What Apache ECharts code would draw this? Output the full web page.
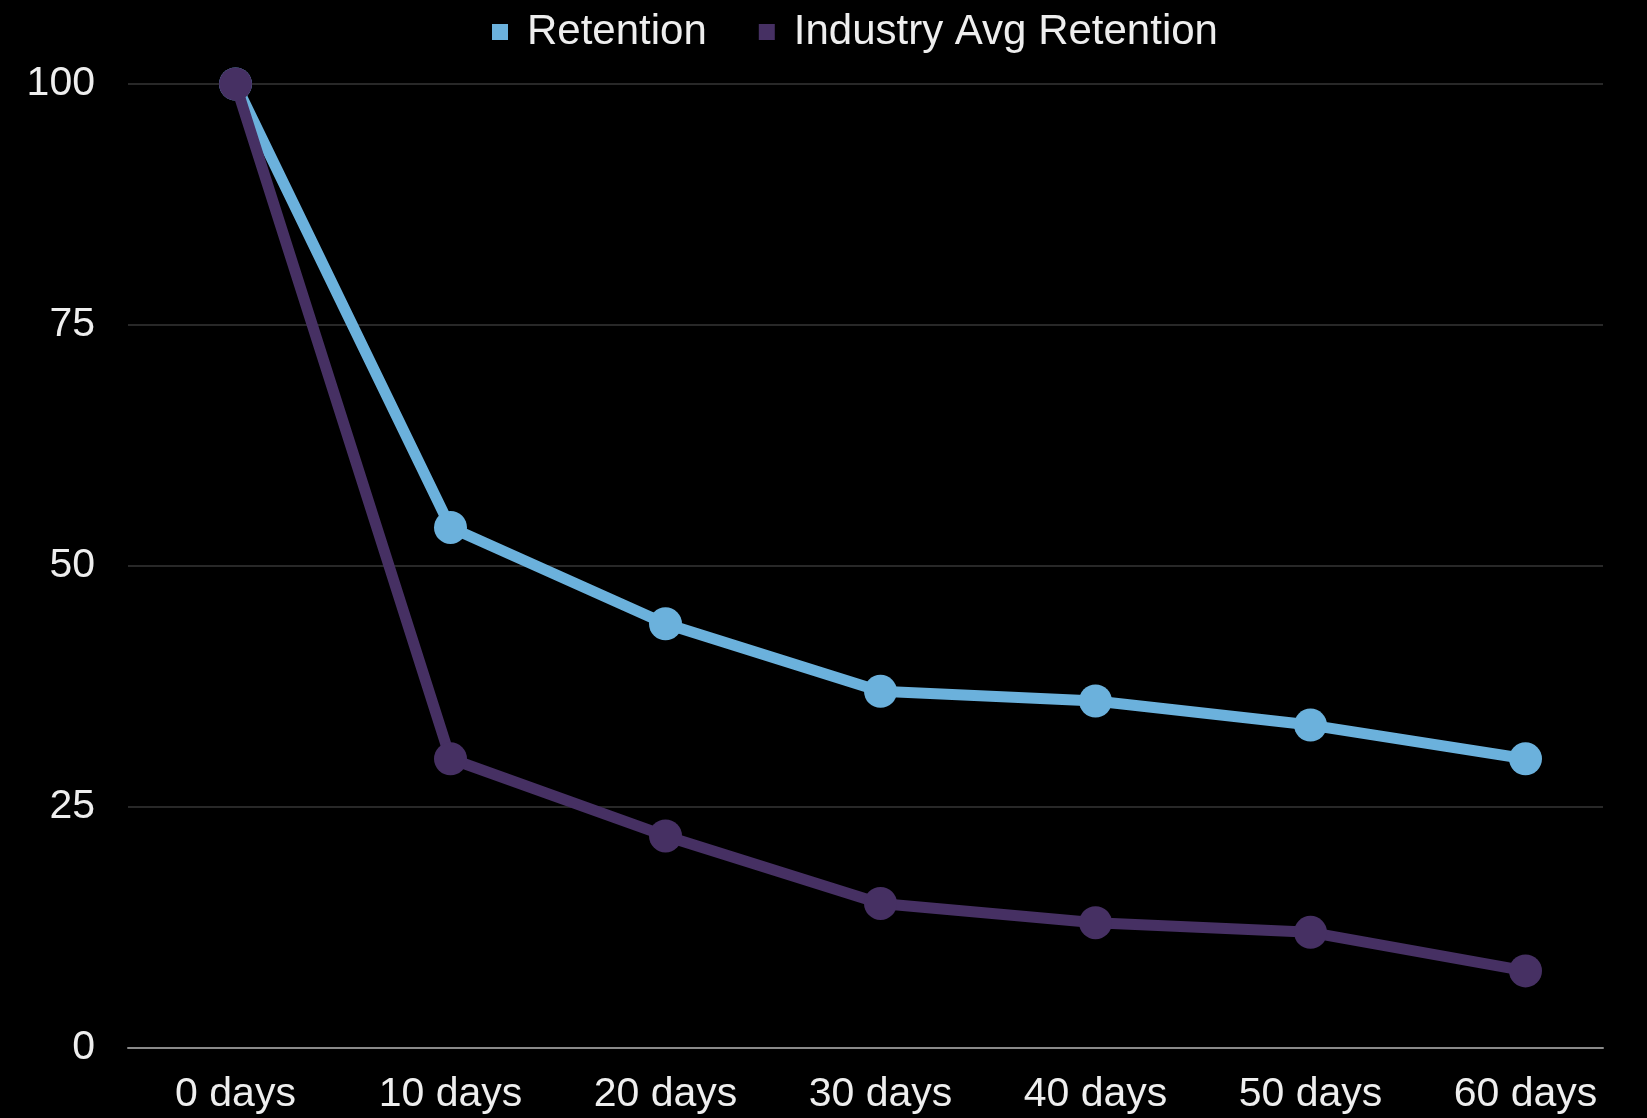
<!DOCTYPE html>
<html>
<head>
<meta charset="utf-8">
<script src="https://cdn.jsdelivr.net/npm/echarts@6/dist/echarts.min.js"></script>
<style>
  html, body { margin: 0; padding: 0; background: #000; }
  #chart { width: 1647px; height: 1118px; }
</style>
</head>
<body>
<div id="chart"></div>
<script>
const categories = ['0 days', '10 days', '20 days', '30 days', '40 days', '50 days', '60 days'];
const retention = [100, 54, 44, 37, 36, 33.5, 30];
const industryAvg = [100, 30, 22, 15, 13, 12, 8];
const yTicks = [0, 25, 50, 75, 100];

const chart = echarts.init(document.getElementById('chart'));
const font = '"Liberation Sans", Arial, sans-serif';
const yMin = yTicks[0], yMax = yTicks[yTicks.length - 1];
chart.setOption({
  backgroundColor: '#000000',
  animation: false,
  legend: {
    top: 6,
    left: 487,
    icon: 'rect',
    itemWidth: 16,
    itemHeight: 16,
    itemGap: 52,
    textStyle: { color: '#eeeeee', fontSize: 42, fontFamily: font, padding: [0, 0, 0, 14] },
    data: ['Retention', 'Industry Avg Retention']
  },
  grid: [
    { left: 128, right: 14, top: 84, bottom: 70 },
    { left: 128, right: 44, top: 84, bottom: 70 }
  ],
  xAxis: [
    {
      gridIndex: 0,
      type: 'category',
      data: categories,
      boundaryGap: true,
      axisLine: { show: false },
      axisTick: { show: false },
      splitLine: { show: false },
      axisLabel: { color: '#eeeeee', fontSize: 41, fontFamily: font, margin: 26 }
    },
    {
      gridIndex: 1,
      type: 'value',
      min: 0,
      max: 1,
      axisLine: { show: true, onZero: false, lineStyle: { color: '#8a8a8a', width: 2 } },
      axisTick: { show: false },
      axisLabel: { show: false },
      splitLine: { show: false }
    }
  ],
  yAxis: [
    {
      gridIndex: 0,
      type: 'value',
      min: yMin,
      max: yMax,
      interval: 25,
      axisLine: { show: false },
      axisTick: { show: false },
      axisLabel: { show: false },
      splitLine: { show: false }
    },
    {
      gridIndex: 1,
      type: 'value',
      min: yMin,
      max: yMax,
      interval: 25,
      axisLine: { show: false },
      axisTick: { show: false },
      splitLine: { lineStyle: { color: '#363636', width: 1.5 } },
      axisLabel: { color: '#eeeeee', fontSize: 41, fontFamily: font, margin: 33 }
    }
  ],
  series: [
    {
      name: 'Industry Avg Retention',
      type: 'line',
      xAxisIndex: 0,
      yAxisIndex: 0,
      data: industryAvg,
      symbol: 'circle',
      symbolSize: 33,
      itemStyle: { color: '#463063' },
      lineStyle: { color: '#463063', width: 11 },
      z: 3
    },
    {
      name: 'Retention',
      type: 'line',
      xAxisIndex: 0,
      yAxisIndex: 0,
      data: retention,
      symbol: 'circle',
      symbolSize: 33,
      itemStyle: { color: '#6bb1dc' },
      lineStyle: { color: '#6bb1dc', width: 11 },
      z: 2
    }
  ]
});
</script>
</body>
</html>
